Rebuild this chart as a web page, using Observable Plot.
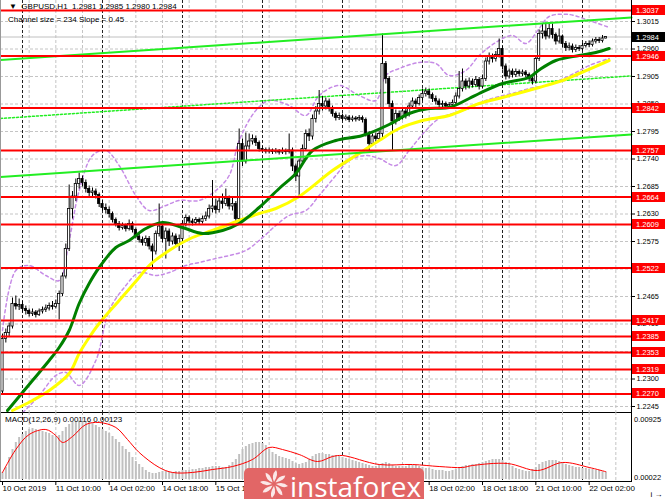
<!DOCTYPE html>
<html>
<head>
<meta charset="utf-8">
<script src="https://cdn.jsdelivr.net/npm/d3@7"></script>
<script src="https://cdn.jsdelivr.net/npm/@observablehq/plot@0.6"></script>
<style>
  html,body{margin:0;padding:0;background:#fff;overflow:hidden;}
  #wrap{position:relative;width:665px;height:499px;overflow:hidden;font-family:"Liberation Sans",Arial,sans-serif;font-size:8px;color:#000;}
  #wrap > svg{position:absolute;left:0;}
  .txt{position:absolute;white-space:pre;line-height:1;}
  .ax{position:absolute;white-space:pre;line-height:1;font-size:7.5px;z-index:5;background:#fff;padding:0 1px;}
  #logo{position:absolute;left:244px;top:468px;width:180px;height:40px;background:#e26666;border-radius:5px;}
  #logo span{position:absolute;left:46px;top:-1px;font-family:"Open Sans",sans-serif;font-size:28px;color:#fff;}
</style>
</head>
<body>
<div id="wrap"></div>
<script>
// ---------------- data ----------------
const symbol = "GBPUSD,H1";
const firstOpen = 1.2275;
const close = [
1.2380,1.2392,1.2405,1.2450,1.2445,1.2448,1.2440,1.2436,1.2430,1.2433,
1.2428,1.2435,1.2438,1.2441,1.2446,1.2444,1.2450,1.2470,1.2505,1.2560,
1.2640,1.2665,1.2690,1.2700,1.2692,1.2680,1.2672,1.2675,1.2668,1.2650,
1.2642,1.2638,1.2630,1.2618,1.2610,1.2602,1.2606,1.2600,1.2610,1.2598,
1.2585,1.2578,1.2572,1.2580,1.2565,1.2555,1.2590,1.2605,1.2580,1.2595,
1.2575,1.2585,1.2570,1.2580,1.2610,1.2622,1.2615,1.2612,1.2618,1.2614,
1.2620,1.2625,1.2640,1.2645,1.2638,1.2655,1.2650,1.2660,1.2645,1.2650,
1.2620,1.2770,1.2735,1.2765,1.2775,1.2780,1.2772,1.2760,1.2758,1.2755,
1.2757,1.2754,1.2756,1.2753,1.2756,1.2754,1.2757,1.2725,1.2705,1.2735,
1.2760,1.2790,1.2785,1.2820,1.2835,1.2850,1.2845,1.2855,1.2840,1.2830,
1.2822,1.2826,1.2820,1.2823,1.2818,1.2821,1.2819,1.2822,1.2818,1.2790,
1.2770,1.2785,1.2780,1.2790,1.2930,1.2900,1.2850,1.2815,1.2830,1.2822,
1.2835,1.2828,1.2845,1.2855,1.2850,1.2862,1.2870,1.2875,1.2868,1.2860,
1.2855,1.2848,1.2850,1.2845,1.2848,1.2852,1.2865,1.2880,1.2895,1.2885,
1.2895,1.2888,1.2898,1.2885,1.2900,1.2935,1.2945,1.2940,1.2948,1.2960,
1.2925,1.2905,1.2915,1.2908,1.2914,1.2910,1.2913,1.2908,1.2900,1.2895,
1.2940,1.2990,1.2995,1.2985,1.3000,1.2988,1.2975,1.2985,1.2970,1.2962,
1.2965,1.2958,1.2962,1.2960,1.2966,1.2970,1.2968,1.2975,1.2978,1.2976,
1.2981,1.2984];
const high = [
1.2390,1.2400,1.2412,1.2462,1.2466,1.2460,1.2455,1.2446,1.2440,1.2440,
1.2437,1.2440,1.2444,1.2448,1.2452,1.2455,1.2458,1.2476,1.2512,1.2570,
1.2688,1.2675,1.2700,1.2712,1.2706,1.2698,1.2686,1.2682,1.2680,1.2672,
1.2658,1.2650,1.2644,1.2634,1.2622,1.2615,1.2612,1.2610,1.2618,1.2614,
1.2602,1.2590,1.2584,1.2586,1.2585,1.2570,1.2596,1.2650,1.2612,1.2602,
1.2600,1.2592,1.2590,1.2588,1.2616,1.2628,1.2626,1.2620,1.2623,1.2622,
1.2626,1.2634,1.2648,1.2697,1.2660,1.2664,1.2670,1.2680,1.2666,1.2662,
1.2655,1.2800,1.2780,1.2792,1.2790,1.2788,1.2786,1.2776,1.2765,1.2762,
1.2762,1.2760,1.2761,1.2759,1.2762,1.2760,1.2790,1.2762,1.2730,1.2740,
1.2768,1.2798,1.2800,1.2828,1.2845,1.2877,1.2865,1.2862,1.2860,1.2846,
1.2834,1.2832,1.2830,1.2828,1.2827,1.2826,1.2825,1.2827,1.2826,1.2822,
1.2795,1.2790,1.2792,1.2796,1.2990,1.2935,1.2905,1.2856,1.2838,1.2836,
1.2842,1.2840,1.2852,1.2862,1.2860,1.2868,1.2880,1.2882,1.2880,1.2872,
1.2866,1.2860,1.2856,1.2854,1.2853,1.2858,1.2872,1.2915,1.2920,1.2900,
1.2902,1.2900,1.2905,1.2903,1.2908,1.2942,1.2952,1.2950,1.2955,1.2980,
1.2965,1.2930,1.2920,1.2920,1.2920,1.2918,1.2918,1.2917,1.2912,1.2905,
1.2946,1.2998,1.3010,1.3012,1.3012,1.3010,1.2992,1.3000,1.2988,1.2975,
1.2972,1.2970,1.2968,1.2967,1.2971,1.2975,1.2976,1.2980,1.2983,1.2983,
1.2987,1.2985];
const low = [
1.2268,1.2372,1.2385,1.2400,1.2438,1.2437,1.2432,1.2428,1.2424,1.2425,
1.2422,1.2425,1.2430,1.2433,1.2436,1.2438,1.2440,1.2418,1.2465,1.2500,
1.2555,1.2620,1.2655,1.2680,1.2684,1.2672,1.2665,1.2664,1.2660,1.2643,
1.2635,1.2630,1.2622,1.2612,1.2604,1.2596,1.2598,1.2594,1.2596,1.2592,
1.2580,1.2572,1.2566,1.2565,1.2558,1.2518,1.2548,1.2584,1.2572,1.2540,
1.2565,1.2568,1.2563,1.2555,1.2575,1.2604,1.2610,1.2606,1.2607,1.2608,
1.2610,1.2615,1.2620,1.2632,1.2630,1.2632,1.2640,1.2645,1.2638,1.2636,
1.2614,1.2615,1.2725,1.2730,1.2758,1.2768,1.2765,1.2754,1.2752,1.2750,
1.2750,1.2749,1.2750,1.2748,1.2749,1.2748,1.2750,1.2715,1.2695,1.2663,
1.2728,1.2755,1.2775,1.2778,1.2812,1.2828,1.2836,1.2838,1.2834,1.2824,
1.2816,1.2817,1.2815,1.2816,1.2813,1.2814,1.2814,1.2815,1.2812,1.2784,
1.2755,1.2765,1.2772,1.2776,1.2782,1.2890,1.2842,1.2757,1.2808,1.2815,
1.2818,1.2820,1.2824,1.2840,1.2843,1.2846,1.2856,1.2864,1.2860,1.2853,
1.2848,1.2842,1.2842,1.2839,1.2840,1.2842,1.2848,1.2860,1.2874,1.2878,
1.2880,1.2882,1.2884,1.2878,1.2880,1.2895,1.2928,1.2932,1.2934,1.2942,
1.2918,1.2898,1.2900,1.2902,1.2903,1.2904,1.2905,1.2902,1.2894,1.2888,
1.2890,1.2935,1.2980,1.2978,1.2980,1.2980,1.2968,1.2970,1.2962,1.2955,
1.2956,1.2952,1.2953,1.2955,1.2956,1.2962,1.2963,1.2964,1.2970,1.2971,
1.2972,1.2980];

const redLevels = [1.3037,1.2946,1.2842,1.2757,1.2664,1.2609,1.2522,1.2417,1.2385,1.2353,1.2319,1.2270];
const priceTicks = [1.2245,1.2300,1.2355,1.2410,1.2465,1.2520,1.2575,1.2630,1.2685,1.2740,1.2795,1.2850,1.2905,1.2960,1.3015];
const xTickIdx = [0,16,32,48,64,80,96,112,128,144,160,176];
const xTickLabels = ["10 Oct 2019","11 Oct 10:00","14 Oct 02:00","14 Oct 18:00","15 Oct 10:00","16 Oct 02:00","16 Oct 18:00","17 Oct 10:00","18 Oct 02:00","18 Oct 18:00","21 Oct 10:00","22 Oct 02:00"];
const daySepIdx = [6,30,54,78,102,126,150,174];

const maGreenIdx = [1.5,9,14,17,20,23,26,29,34,38,43,48,54,60,66,71,77,83,88,93,100,108,116,122,128,134,140,143,150,158,161,166,173,178,182];
const maGreenVal = [1.2237,1.2297,1.2337,1.2363,1.2397,1.2451,1.2491,1.2523,1.2563,1.2577,1.2601,1.2613,1.2603,1.2591,1.2597,1.2611,1.2643,1.2681,1.2711,1.2757,1.2777,1.2787,1.2809,1.2831,1.2841,1.2843,1.2861,1.2871,1.2891,1.2903,1.2918,1.2937,1.2947,1.2953,1.2961];
const maYellowIdx = [3,9,14,20,23,26,29,35,41,44,50,57,63,71,77,82,89,99,107,113,119,126,134,143,150,161,168,173,182];
const maYellowVal = [1.2237,1.2257,1.2277,1.2311,1.2351,1.2383,1.2411,1.2457,1.2503,1.2527,1.2557,1.2583,1.2597,1.2617,1.2631,1.2641,1.2665,1.2717,1.2751,1.2777,1.2801,1.2817,1.2827,1.2851,1.2863,1.2883,1.2897,1.2911,1.2937];

const bandUpIdx = [0,4,8,13,17,20,23,27,31,35,40,44,49,53,59,64,68,71,76,80,86,91,95,101,107,112,115,119,125,130,134,139,143,148,153,157,161,164,170,176,182];
const bandUpVal = [1.2397,1.2517,1.2527,1.2507,1.2497,1.2577,1.2677,1.2747,1.2757,1.2727,1.2667,1.2637,1.2647,1.2657,1.2657,1.2677,1.2707,1.2777,1.2837,1.2857,1.2847,1.2827,1.2867,1.2887,1.2867,1.2857,1.2907,1.2921,1.2933,1.2931,1.2907,1.2917,1.2947,1.2973,1.2987,1.2971,1.3001,1.3025,1.3029,1.3017,1.3003];
const bandLoIdx = [0,5,11,16,19,23,28,32,37,41,46,50,55,59,64,68,73,77,82,86,91,95,100,104,109,113,118,122,127,131,136,140,145,149,154,158,163,167,172,176,182];
const bandLoVal = [1.2207,1.2227,1.2267,1.2307,1.2313,1.2287,1.2337,1.2437,1.2487,1.2513,1.2507,1.2513,1.2527,1.2533,1.2541,1.2547,1.2557,1.2577,1.2607,1.2627,1.2637,1.2667,1.2707,1.2737,1.2747,1.2741,1.2727,1.2757,1.2797,1.2821,1.2833,1.2841,1.2857,1.2865,1.2873,1.2881,1.2887,1.2897,1.2913,1.2927,1.2941];

// MACD(12,26,9), values in units of 0.00001
const macdHistE5 = [
111,190,348,474,585,664,711,758,790,806,
790,774,758,743,727,695,679,695,758,822,
869,901,916,925,925,916,901,885,853,822,
790,758,727,679,632,585,521,474,427,348,
284,237,190,142,111,95,95,111,126,126,
111,111,126,126,142,142,142,158,158,174,
174,190,190,205,205,205,190,190,221,269,
316,395,474,521,553,569,585,585,569,537,
474,427,395,363,348,332,316,284,253,237,
253,269,316,363,395,411,411,395,395,379,
379,363,348,332,316,300,284,269,253,237,
221,205,205,221,253,269,253,221,205,205,
205,205,221,221,221,205,190,174,174,158,
142,142,142,126,126,142,158,174,205,221,
221,237,237,253,269,284,300,316,316,316,
300,269,237,205,174,158,142,126,126,158,
190,237,269,284,300,300,300,284,269,237,
221,205,190,190,174,174,158,158,142,142,
121,116];
const macdSigIdx = [0,4,8,13,16,18,21,25,29,34,37.5,41,47,51,57,63,69,75,80,84,89,94.5,99,102,113,123,131,138,141,151.5,160.5,168,176,181];
const macdSigE5 = [111,474,711,790,695,585,679,869,901,822,632,427,190,111,111,158,205,316,506,474,395,284,363,379,237,237,205,190,221,253,142,269,190,123];
const macdTicks = [0.00925, 0.00022];

const channelSizePts = 234, channelSlopePts = 0.45, channelMidStart = 1.2821;

// ---------------- build ----------------
const font = "Liberation Sans, Arial, sans-serif";
const W = 665, priceH = 412, macdH = 87;
const xDomain = [-0.6, 188.7];
const bars = close.map((c, i) => ({i, o: i ? close[i - 1] : firstOpen, c, h: high[i], l: low[i]}));
const last = bars[bars.length - 1];
const zip = (a, b) => a.map((i, k) => ({i, v: b[k]}));
const maGreen = zip(maGreenIdx, maGreenVal), maYellow = zip(maYellowIdx, maYellowVal);
const bandUp = zip(bandUpIdx, bandUpVal), bandLo = zip(bandLoIdx, bandLoVal);
const hist = macdHistE5.map((v, i) => ({i, v: v / 1e5}));
const sig = macdSigIdx.map((i, k) => ({i, v: macdSigE5[k] / 1e5}));
const gridIdx = d3.range(8, 189, 8);
const half = channelSizePts / 2 * 1e-4;
const chan = xDomain.map(i => ({i, mid: channelMidStart + (i - xDomain[0]) * channelSlopePts * 1e-4}));

function boxLabels(values, fill, textFill, digits) {
  return (index, scales, v, dims) => {
    const g = d3.create("svg:g").attr("font-family", font).attr("font-size", 7.5).attr("text-anchor", "start");
    const x0 = dims.width - dims.marginRight;
    for (const val of values) {
      const y = Math.round(scales.y(val));
      g.append("rect").attr("x", x0 + 1).attr("y", y - 5).attr("width", dims.marginRight - 1).attr("height", 10).attr("fill", fill);
      g.append("text").attr("x", x0 + 5).attr("y", y).attr("dy", "0.36em").attr("fill", textFill).text(val.toFixed(digits));
    }
    return g.node();
  };
}

const common = {width: W, marginLeft: 0, marginRight: 34, marginTop: 0,
  style: {fontFamily: font, fontSize: "7.5px", color: "#000", background: "transparent", overflow: "visible"}};

const price = Plot.plot({
  ...common, height: priceH, marginBottom: 0,
  x: {domain: xDomain, axis: null},
  y: {domain: [1.3057 - priceH / 5000, 1.3057], axis: null},
  marks: [
    Plot.ruleX(gridIdx, {stroke: "#c4c4c4", strokeDasharray: "3,2"}),
    Plot.ruleY(priceTicks, {stroke: "#c4c4c4", strokeDasharray: "3,2"}),
    Plot.ruleX(daySepIdx, {stroke: "#222", strokeDasharray: "3,2"}),
    Plot.ruleY([last.c], {stroke: "#c0c0c0"}),
    Plot.line(bandUp, {x: "i", y: "v", stroke: "#c68be6", strokeDasharray: "3,3", curve: "catmull-rom", clip: true}),
    Plot.line(bandLo, {x: "i", y: "v", stroke: "#c68be6", strokeDasharray: "3,3", curve: "catmull-rom", clip: true}),
    Plot.line(chan, {x: "i", y: "mid", stroke: "#22ee22", strokeDasharray: "2,2"}),
    Plot.ruleX(bars, {x: "i", y1: "l", y2: "h", stroke: "#000"}),
    Plot.rect(bars, {x1: d => d.i - 0.33, x2: d => d.i + 0.33, y1: "o", y2: "c",
      fill: d => d.c >= d.o ? "#fff" : "#000", stroke: "#000", strokeWidth: 0.8}),
    Plot.line(maYellow, {x: "i", y: "v", stroke: "#ffff00", strokeWidth: 3, curve: "catmull-rom", clip: true}),
    Plot.line(maGreen, {x: "i", y: "v", stroke: "#008000", strokeWidth: 3, curve: "catmull-rom", clip: true}),
    Plot.line(chan, {x: "i", y: d => d.mid + half, stroke: "#22ee22", strokeWidth: 2}),
    Plot.line(chan, {x: "i", y: d => d.mid - half, stroke: "#22ee22", strokeWidth: 2}),
    Plot.ruleY(redLevels, {stroke: "#ff0000", strokeWidth: 2}),
    Plot.axisY(priceTicks, {anchor: "right", tickSize: 3, tickPadding: 2, fontSize: 7.3, tickFormat: d => d.toFixed(4)}),
    boxLabels(redLevels, "#ff0000", "#fff", 4),
    boxLabels([last.c], "#000", "#fff", 4),
    Plot.frame({anchor: "left", stroke: "#999"}),
    Plot.frame({anchor: "right"}),
    Plot.frame({anchor: "bottom"})
  ]
});

const macd = Plot.plot({
  ...common, height: macdH, marginBottom: 18,
  x: {domain: xDomain, axis: null},
  y: {domain: [-0.000316, 0.010586], axis: null},
  marks: [
    Plot.ruleX(gridIdx, {stroke: "#c4c4c4", strokeDasharray: "3,2"}),
    Plot.ruleX(daySepIdx, {stroke: "#222", strokeDasharray: "3,2"}),
    Plot.ruleX(hist, {x: "i", y1: 0, y2: "v", stroke: "#c0c0c0", strokeWidth: 2}),
    Plot.line(sig, {x: "i", y: "v", stroke: "#ff0000", strokeWidth: 1, curve: "catmull-rom"}),
    Plot.axisX(xTickIdx, {anchor: "bottom", tickSize: 4, tickPadding: 0, fontSize: 8, textAnchor: "start",
      tickFormat: d => xTickLabels[xTickIdx.indexOf(d)]}),
    Plot.frame({anchor: "left", stroke: "#999"}),
    Plot.frame({anchor: "right"}),
    Plot.frame({anchor: "bottom"})
  ]
});

const wrap = document.getElementById("wrap");
price.style.top = "0px";
macd.style.top = priceH + "px";
wrap.appendChild(price);
wrap.appendChild(macd);

function addText(str, left, top, cls = "txt") {
  const d = document.createElement("div");
  d.className = cls; d.style.left = left + "px"; d.style.top = top + "px";
  d.textContent = str; wrap.appendChild(d);
  return d;
}
addText(`▼  ${symbol}  ${last.o.toFixed(4)} ${last.h.toFixed(4)} ${last.l.toFixed(4)} ${last.c.toFixed(4)}`, 9, 3);
addText(`Channel size = ${channelSizePts} Slope = ${channelSlopePts}`, 8, 16);
addText(`MACD(12,26,9) ${(macdHistE5[macdHistE5.length-1]/1e5).toFixed(5)} ${(macdSigE5[macdSigE5.length-1]/1e5).toFixed(5)}`, 5, 416);

// MACD right-hand scale labels, positioned through the plot's own y scale
const my = macd.scale("y");
for (const v of macdTicks) {
  const py = my.apply(v);
  addText(v.toFixed(5), W - 32, Math.round(priceH + (Number.isFinite(py) ? py : 0) - 4), "ax");
}

const logo = document.createElement("div");
logo.id = "logo";
logo.innerHTML = `<svg width="40" height="31" style="position:absolute;left:8px;top:0"><g transform="translate(22,16)" fill="#fff" fill-opacity="0.85">
${d3.range(8).map(k => `<path d="M0,-2 Q5,-10 2,-14 Q-3,-9 0,-2Z" transform="rotate(${k*45})"/>`).join("")}</g></svg><span>instaforex</span>`;
wrap.appendChild(logo);
</script>
</body>
</html>
